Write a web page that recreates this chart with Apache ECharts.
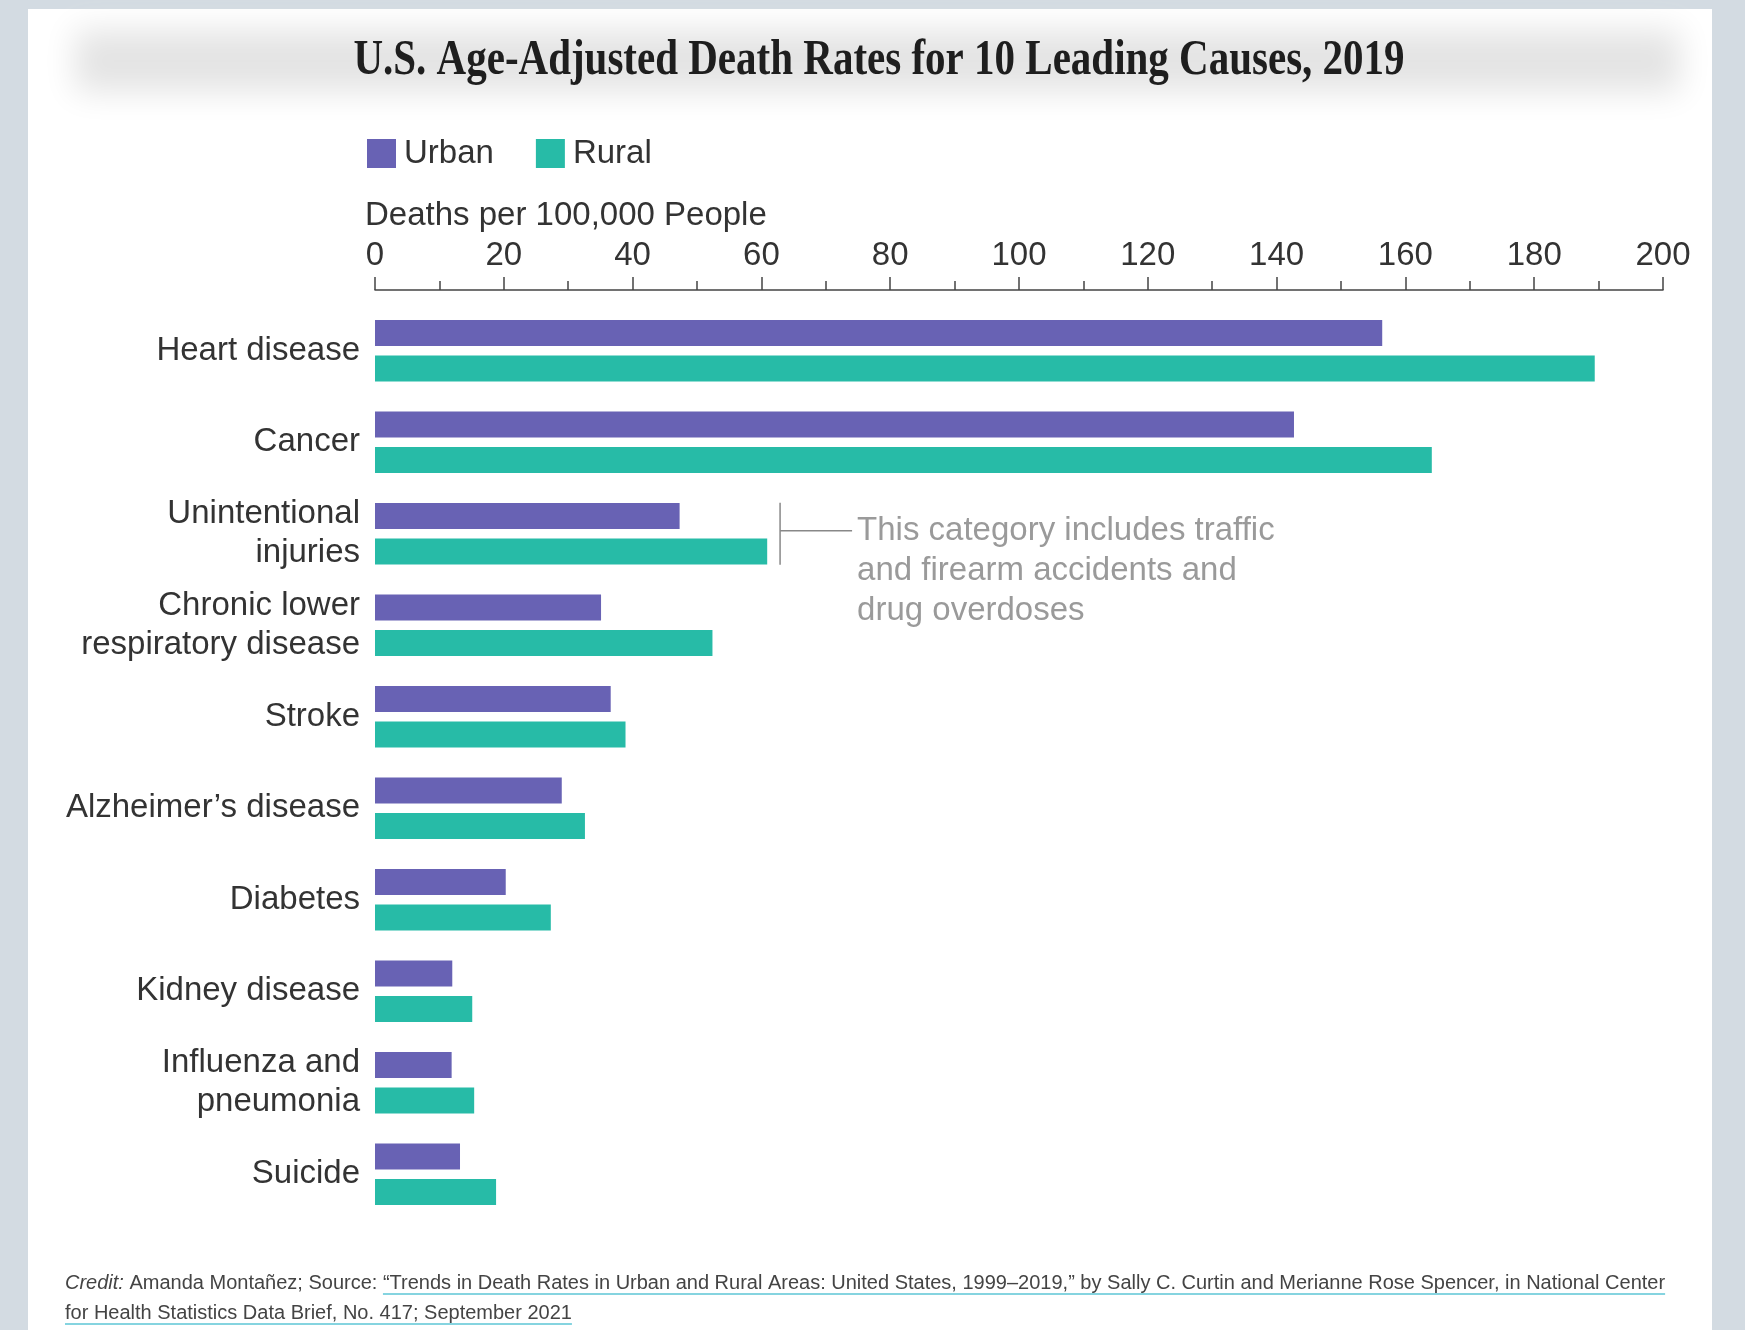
<!DOCTYPE html>
<html>
<head>
<meta charset="utf-8">
<script src="https://cdn.jsdelivr.net/npm/echarts@6/dist/echarts.min.js"></script>
<style>
  html, body { margin: 0; padding: 0; background: #d3dbe2; }
  #chart { width: 1745px; height: 1330px; }
</style>
</head>
<body>
<div id="chart"></div>
<script>
// Age-adjusted death rates per 100,000, 2019
const causes = [
  'Heart disease',
  'Cancer',
  'Unintentional\ninjuries',
  'Chronic lower\nrespiratory disease',
  'Stroke',
  'Alzheimer’s disease',
  'Diabetes',
  'Kidney disease',
  'Influenza and\npneumonia',
  'Suicide'
];
const urbanRates = [156.4, 142.7, 47.3, 35.1, 36.6, 29.0, 20.3, 12.0, 11.9, 13.2];
const ruralRates = [189.4, 164.1, 60.9, 52.4, 38.9, 32.6, 27.3, 15.1, 15.4, 18.8];
const axisMin = 0;
const axisMax = 200;
const axisStep = 20;

const titleText = 'U.S. Age-Adjusted Death Rates for 10 Leading Causes, 2019';
const axisTitle = 'Deaths per 100,000 People';
const noteLines = ['This category includes traffic', 'and firearm accidents and', 'drug overdoses'];
const notedCause = 2;
const creditLead = 'Credit:';
const creditPlain = ' Amanda Montañez; Source: ';
const creditLink1 = '“Trends in Death Rates in Urban and Rural Areas: United States, 1999–2019,” by Sally C. Curtin and Merianne Rose Spencer, in National Center';
const creditLink2 = 'for Health Statistics Data Brief, No. 417; September 2021';

const SANS = '"Liberation Sans", Arial, Helvetica, sans-serif';
const SERIF = '"Liberation Serif", "Times New Roman", serif';
const URBAN = '#6862b4';
const RURAL = '#27bba7';

const chart = echarts.init(document.getElementById('chart'), null, { renderer: 'canvas' });

const option = {
  backgroundColor: '#d3dbe2',
  animation: false,
  legend: {
    left: 362, top: 132,
    icon: 'rect', itemWidth: 29, itemHeight: 29, itemGap: 42,
    textStyle: { fontFamily: SANS, fontSize: 33, color: '#333', lineHeight: 29, padding: [0, 0, 0, 3] },
    data: ['Urban', 'Rural']
  },
  grid: { left: 375, right: 82, top: 305, bottom: 110 },
  xAxis: {
    type: 'value', position: 'top', offset: 15,
    min: axisMin, max: axisMax, interval: axisStep,
    axisLine: { show: true, lineStyle: { color: '#444', width: 1.5 } },
    axisTick: { show: true, length: 13, lineStyle: { color: '#444', width: 1.5 } },
    minorTick: { show: true, splitNumber: 2, length: 9, lineStyle: { color: '#444', width: 1.5 } },
    splitLine: { show: false },
    axisLabel: { margin: 18, fontFamily: SANS, fontSize: 33, color: '#333' }
  },
  yAxis: {
    type: 'category', inverse: true, data: causes,
    axisLine: { show: false }, axisTick: { show: false },
    axisLabel: { margin: 15, fontFamily: SANS, fontSize: 33, color: '#333', lineHeight: 39, align: 'right' }
  },
  series: [
    { name: 'Urban', type: 'bar', data: urbanRates, barWidth: 26, barGap: '37%', itemStyle: { color: URBAN } },
    { name: 'Rural', type: 'bar', data: ruralRates, barWidth: 26, itemStyle: { color: RURAL } }
  ]
};
chart.setOption(option);

// text measuring for the credit underlines
const ctx = document.createElement('canvas').getContext('2d');
function textWidth(str, font) { ctx.font = font; return ctx.measureText(str).width; }
const creditFont = '20px ' + SANS;
const creditItalic = 'italic 20px ' + SANS;
const cx = 65;
const leadW = textWidth(creditLead, creditItalic);
const plainW = textWidth(creditPlain, creditFont);
const link1W = textWidth(creditLink1, creditFont);
const link2W = textWidth(creditLink2, creditFont);

// annotation bracket placed just past the rural bar of the noted category
const bracketVal = ruralRates[notedCause] + 2;
const p = chart.convertToPixel({ gridIndex: 0 }, [bracketVal, notedCause]);
const half = 31;

function txt(x, y, text, font, fill, extra) {
  return Object.assign({
    type: 'text', x: x, y: y,
    style: { text: text, font: font, fill: fill, align: 'left', verticalAlign: 'middle',
             textAlign: 'left', textVerticalAlign: 'middle' }
  }, extra || {});
}

const graphics = [
  { type: 'rect', z: -10, shape: { x: 28, y: 9, width: 1684, height: 1330 }, style: { fill: '#ffffff' } },
  // soft grey band behind the heading (only its blurred shadow is on screen)
  { type: 'rect', z: -9, shape: { x: 75 - 4000, y: 30, width: 1605, height: 62 },
    style: { fill: '#e2e2e2', shadowBlur: 32, shadowColor: '#e4e4e4', shadowOffsetX: 4000 } },
  {
    type: 'text', x: 879, y: 61, scaleX: 0.82, z: 5,
    style: { text: titleText, font: 'bold 50px ' + SERIF, fill: '#1e1e1e',
             align: 'center', verticalAlign: 'middle', textAlign: 'center', textVerticalAlign: 'middle' }
  },
  txt(365, 216, axisTitle, '33px ' + SANS, '#333'),
  { type: 'line', shape: { x1: p[0], y1: p[1] - half, x2: p[0], y2: p[1] + half },
    style: { stroke: '#888', lineWidth: 1.5 } },
  { type: 'line', shape: { x1: p[0], y1: p[1] - 3, x2: p[0] + 72, y2: p[1] - 3 },
    style: { stroke: '#888', lineWidth: 1.5 } },
  txt(cx, 1283, creditLead, creditItalic, '#444'),
  txt(cx + leadW, 1283, creditPlain, creditFont, '#444'),
  txt(cx + leadW + plainW, 1283, creditLink1, creditFont, '#444'),
  txt(cx, 1313, creditLink2, creditFont, '#444'),
  { type: 'line', shape: { x1: cx + leadW + plainW, y1: 1294, x2: cx + leadW + plainW + link1W, y2: 1294 },
    style: { stroke: '#5cc6d6', lineWidth: 1.5 } },
  { type: 'line', shape: { x1: cx, y1: 1324, x2: cx + link2W, y2: 1324 },
    style: { stroke: '#5cc6d6', lineWidth: 1.5 } }
];
noteLines.forEach(function (line, i) {
  graphics.push(txt(p[0] + 77, p[1] - 3 + i * 40, line, '33px ' + SANS, '#9a9a9a'));
});
chart.setOption({ graphic: graphics });
</script>
</body>
</html>
